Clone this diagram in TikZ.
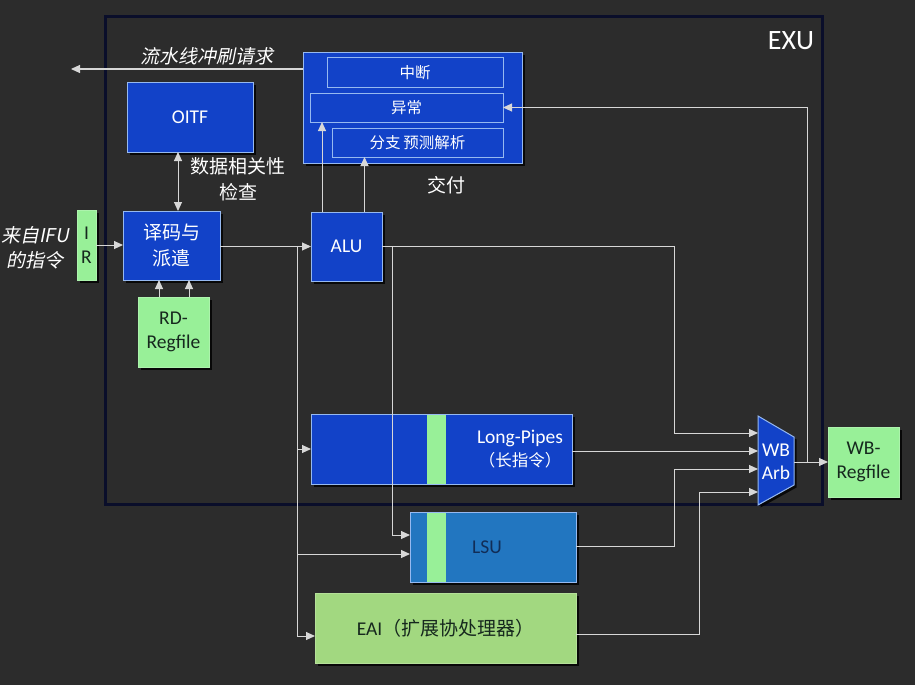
\documentclass[tikz,border=0pt]{standalone}
\usepackage{fontspec}
\setmainfont{Carlito}
\newfontfamily\cjk{Noto Sans CJK SC}
\newfontfamily\cjkit[FakeSlant=0.2]{Noto Sans CJK SC}
\usetikzlibrary{arrows.meta,shadows,calc}
\definecolor{bgc}{RGB}{44,44,44}
\definecolor{boxblue}{RGB}{18,66,200}
\definecolor{boxedge}{RGB}{150,185,240}
\definecolor{lgreen}{RGB}{152,240,152}
\definecolor{lsublue}{RGB}{34,118,192}
\definecolor{eaigreen}{RGB}{162,216,128}
\definecolor{darktext}{RGB}{22,40,30}
\definecolor{linegray}{RGB}{215,215,215}
\definecolor{navy}{RGB}{10,14,42}
\tikzset{
  every node/.style={inner sep=0pt, outer sep=0pt},
  shad/.style={drop shadow={shadow xshift=2.5pt, shadow yshift=-2.5pt, opacity=0.8, fill=black}},
  bluebox/.style={draw=boxedge, line width=1pt, fill=boxblue, text=white, shad},
  innerbox/.style={draw=boxedge, line width=1pt, fill=boxblue, text=white, font=\cjk\fontsize{15.5}{20}\selectfont},
  greenbox/.style={draw=lgreen!80!white, line width=0.8pt, fill=lgreen, text=darktext, shad},
  fA/.style={font=\fontsize{19.5}{23.5}\selectfont},
  fB/.style={font=\cjk\fontsize{19}{26}\selectfont},
  wire/.style={draw=linegray, line width=1pt},
  arr/.style={wire, -{Triangle[length=9pt,width=8pt]}},
  darr/.style={wire, {Triangle[length=9pt,width=8pt]}-{Triangle[length=9pt,width=8pt]}},
  exuframe/.style={draw=navy, line width=3pt},
  lbl/.style={text=white, align=center},
}
\begin{document}
\begin{tikzpicture}[x=1pt,y=-1pt]
\fill[bgc] (0,0) rectangle (915,685);
\useasboundingbox (0,0) rectangle (915,685);

% EXU frame
\node[exuframe, minimum width=717pt, minimum height=487pt, anchor=north west] (exu) at (105,17) {};
\node[lbl, font=\fontsize{28}{30}\selectfont] (exulbl) at (791,41) {EXU};

% commit block
\node[bluebox, minimum width=219pt, minimum height=110pt] (cmt) at (412.5,108) {};
\node[innerbox, minimum width=176pt, minimum height=29pt] (intr) at (415,72.5) {中断};
\node[innerbox, minimum width=193pt, minimum height=29pt] (exc) at (406.5,107.5) {异常};
\node[innerbox, minimum width=171pt, minimum height=29pt] (bpu) at (417.5,142.5) {分支\,预测解析};
\node[lbl, fB] (cmtlbl) at (446,185) {交付};

% OITF
\node[bluebox, fA, minimum width=126pt, minimum height=70pt] (oitf) at (190,117) {OITF};
\node[lbl, fB] (deplbl) at (238,179) {数据相关性\\检查};

% IR and label
\node[greenbox, fA, minimum width=19pt, minimum height=70pt, align=center] (ir) at (86.5,245) {I\\R};
\node[lbl, font=\cjkit\fontsize{19}{25}\selectfont] (ifulbl) at (35,248) {来自IFU\\的指令};

% decode
\node[bluebox, fB, minimum width=97pt, minimum height=69pt, align=center] (dec) at (171.5,245.5) {译码与\\派遣};
\node[greenbox, fA, minimum width=71pt, minimum height=70pt, align=center] (rd) at (173.5,332) {RD-\\Regfile};

% ALU
\node[bluebox, fA, minimum width=71pt, minimum height=69pt] (alu) at (346.5,246.5) {ALU};

% Long pipes
\node[bluebox, minimum width=261pt, minimum height=70pt] (lp) at (441.5,449) {};
\fill[lgreen] (427,414.5) rectangle (446,483.5);
\node[text=white, align=center, fA] (lplbl) at (520,449) {Long-Pipes\\{\cjk\fontsize{16.5}{23.5}\selectfont （长指令）}};

% LSU
\node[bluebox, fill=lsublue, minimum width=166pt, minimum height=70pt] (lsu) at (493,547) {};
\fill[lgreen] (427,512.5) rectangle (446,581.5);
\node[text=navy!70!lsublue, fA] (lsulbl) at (487,547) {LSU};

% EAI
\node[greenbox, fill=eaigreen, draw=eaigreen!80!white, minimum width=261pt, minimum height=70pt, fA] (eai) at (445.5,628) {EAI{\cjk\fontsize{19}{23}\selectfont （扩展协处理器）}};

% WB arbiter
\draw[fill=boxblue, draw=boxedge, line width=1pt, shad] (758,416) -- (794,437) -- (794,485) -- (758,505) -- cycle;
\node[lbl, fA] (arb) at (776,462) {WB\\Arb};
\coordinate (in1) at (758,433);
\coordinate (in2) at (758,451);
\coordinate (in3) at (758,469);
\coordinate (in4) at (758,492);
\coordinate (arbout) at (794,462);

% WB regfile
\node[greenbox, fA, minimum width=71pt, minimum height=70pt, align=center] (wbr) at (863.5,462) {WB-\\Regfile};

% ---------- connectors ----------
% flush request
\coordinate (flushend) at (71,69);
\draw[arr] (cmt.west |- flushend) -- (flushend);
\node[lbl, font=\cjkit\fontsize{19}{24}\selectfont] (flushlbl) at (207,56) {流水线冲刷请求};

% OITF <-> decode
\draw[darr] ([xshift=-12pt]oitf.south) -- ([xshift=-12pt]oitf.south |- dec.north);

% IR -> decode
\draw[arr] (ir.east) -- (ir.east -| dec.west);

% RD regfile -> decode
\draw[arr] ([xshift=-14.5pt]rd.north) -- ([xshift=-14.5pt]rd.north |- dec.south);
\draw[arr] ([xshift=15.5pt]rd.north) -- ([xshift=15.5pt]rd.north |- dec.south);

% decode -> ALU and dispatch bus
\coordinate (bus) at (297,246.5);
\draw[arr] (dec.east |- alu.west) -- (alu.west);
\draw[arr] (bus) |- (lp.west);
\draw[arr] (bus) |- ([yshift=-7pt]lsu.west);
\draw[arr] (bus) |- ([yshift=-8pt]eai.west);

% ALU -> commit
\draw[arr] ([xshift=-24.5pt]alu.north) -- ([xshift=-24.5pt]alu.north |- exc.south);
\draw[arr] ([xshift=18pt]alu.north) -- ([xshift=18pt]alu.north |- bpu.south);

% ALU -> WB arb and ALU -> LSU
\coordinate (aluturn) at (674,246.5);
\draw[arr] (alu.east) -- (aluturn) |- (in1);
\coordinate (alulsu) at (392,246.5);
\draw[arr] (alulsu) |- ([yshift=12pt]lsu.west);

% Long pipes -> arb
\draw[arr] (lp.east |- in2) -- (in2);
% LSU -> arb
\coordinate (lsuturn) at (674,546);
\draw[arr] (lsu.east |- lsuturn) -- (lsuturn) |- (in3);
% EAI -> arb
\coordinate (eaiturn) at (699,634);
\draw[arr] (eai.east |- eaiturn) -- (eaiturn) |- (in4);

% arb -> WB regfile, and exception feedback
\draw[arr] (arbout) -- (arbout -| wbr.west);
\coordinate (fb) at (807,462);
\draw[arr] (fb) |- (exc.east);
\end{tikzpicture}
\end{document}
